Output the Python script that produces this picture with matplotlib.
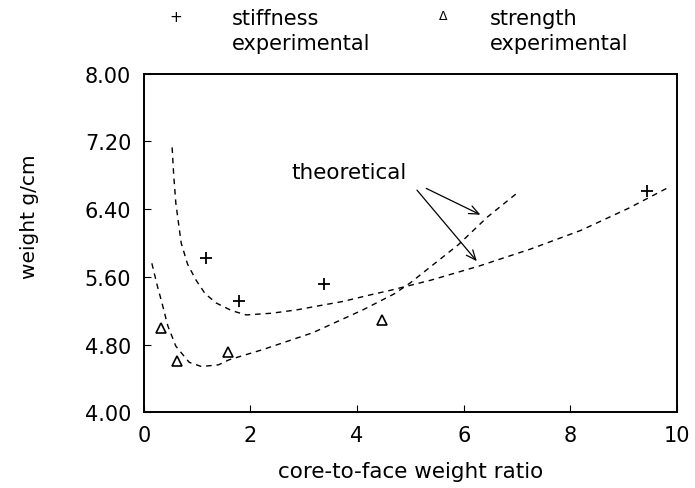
import matplotlib
matplotlib.use('Agg')
import matplotlib.pyplot as plt

# experimental points
stiff_x = [1.17, 1.79, 3.38, 9.43]
stiff_y = [5.82, 5.32, 5.52, 6.61]
str_x = [0.32, 0.62, 1.58, 4.47]
str_y = [4.99, 4.60, 4.71, 5.09]

# theoretical curves
th_stiff_x = [0.53, 0.56, 0.60, 0.70, 0.82, 0.98, 1.15, 1.36, 1.65, 1.92, 2.4, 2.87, 3.3, 3.74, 4.2, 4.62, 5.38, 6.3, 7.26, 8.2, 9.09, 9.85]
th_stiff_y = [7.13, 6.80, 6.47, 6.00, 5.75, 5.56, 5.40, 5.29, 5.20, 5.15, 5.17, 5.21, 5.26, 5.31, 5.38, 5.44, 5.56, 5.73, 5.93, 6.15, 6.41, 6.66]
th_str_x = [0.15, 0.25, 0.34, 0.45, 0.60, 0.85, 1.08, 1.40, 1.60, 2.23, 3.17, 4.11, 4.70, 5.00, 5.38, 5.90, 6.45, 7.02]
th_str_y = [5.76, 5.50, 5.29, 5.02, 4.78, 4.59, 4.54, 4.56, 4.62, 4.74, 4.94, 5.21, 5.40, 5.53, 5.72, 5.98, 6.31, 6.60]

xticks = [0, 2, 4, 6, 8, 10]
yticks = [4.00, 4.80, 5.60, 6.40, 7.20, 8.00]

fig = plt.figure(figsize=(6.95, 4.89), dpi=100)
ax = fig.add_axes([0.207, 0.155, 0.767, 0.692])

ax.plot(th_stiff_x, th_stiff_y, color='black', lw=1, dashes=(4, 3.5))
ax.plot(th_str_x, th_str_y, color='black', lw=1, dashes=(4, 3.5))
ax.plot(stiff_x, stiff_y, '+', color='black', ms=9, mew=1.3)
ax.plot(str_x, str_y, '^', color='black', ms=7, mfc='none', mew=1.2)

ax.set_xlim(0, 10)
ax.set_ylim(4, 8)
ax.set_xticks(xticks)
ax.set_yticks(yticks)
ax.set_yticklabels(['%.2f' % v for v in yticks])
ax.tick_params(direction='in', labelsize=15, length=5, pad=9)
for s in ax.spines.values():
    s.set_linewidth(1.4)

ax.set_xlabel('core-to-face weight ratio', fontsize=15.5, labelpad=12)
ax.set_ylabel('weight g/cm', fontsize=14.5)
ax.yaxis.set_label_coords(-0.196, 0.58)

# annotation
ax.text(2.77, 6.84, 'theoretical', fontsize=15.5, va='center')
arrow = dict(arrowstyle='->,head_length=0.7,head_width=0.3', color='black', lw=0.9)
ax.annotate('', xy=(6.36, 6.32), xytext=(5.25, 6.66), arrowprops=arrow)
ax.annotate('', xy=(6.28, 5.76), xytext=(5.09, 6.65), arrowprops=arrow)

# legend at top
fig.text(176 / 695, 1 - 17 / 489, '+', fontsize=11, ha='center', va='center')
fig.text(232 / 695, 1 - 19 / 489, 'stiffness', fontsize=15, va='center')
fig.text(232 / 695, 1 - 44 / 489, 'experimental', fontsize=15, va='center')
fig.text(443 / 695, 1 - 17 / 489, '\u0394', fontsize=9, ha='center', va='center')
fig.text(490 / 695, 1 - 19 / 489, 'strength', fontsize=15, va='center')
fig.text(490 / 695, 1 - 44 / 489, 'experimental', fontsize=15, va='center')

plt.savefig('out.png', dpi=100)
